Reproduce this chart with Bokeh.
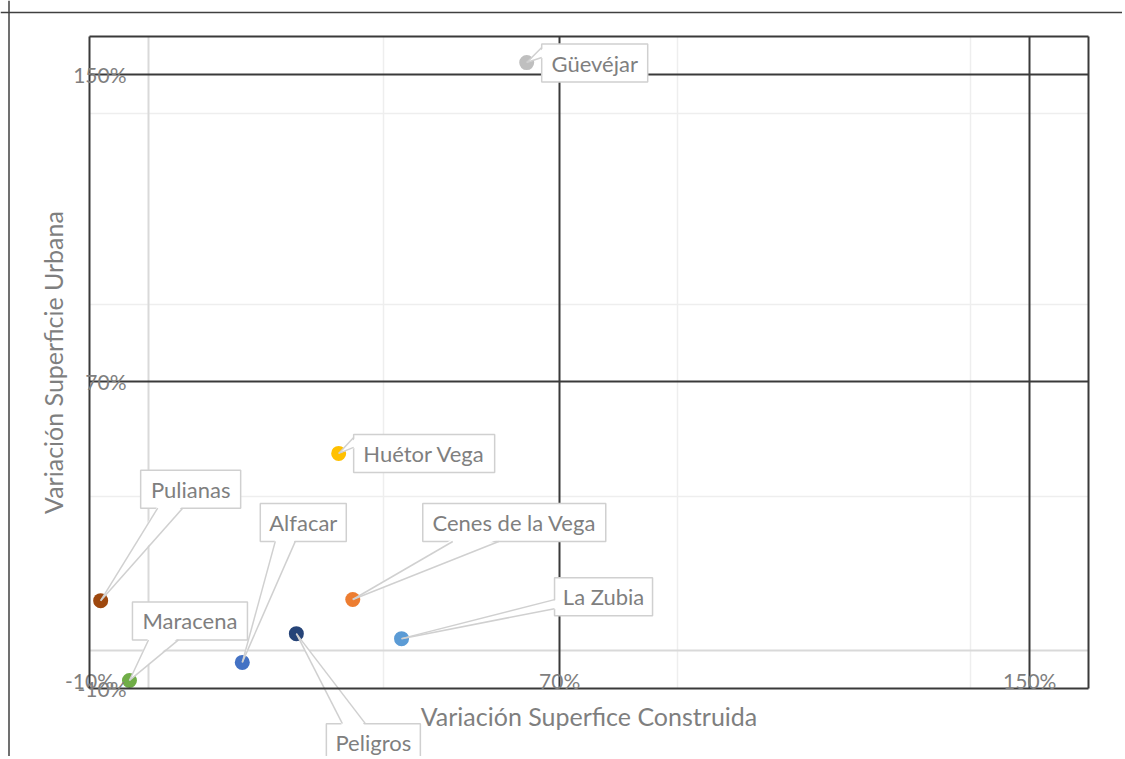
from bokeh.plotting import figure
from bokeh.models import Range1d, FixedTicker, Grid, Span, ColumnDataSource
from bokeh.core.properties import value
from bokeh.embed import file_html
from bokeh.resources import INLINE

# ---------------- data ----------------
municipios = ["Güevéjar", "Huétor Vega", "Pulianas", "Cenes de la Vega",
              "La Zubia", "Peligros", "Alfacar", "Maracena"]
var_construida = [64.4, 32.4, -8.1, 34.8, 43.1, 25.2, 16.0, -3.2]
var_urbana = [153.2, 51.3, 12.9, 13.2, 3.0, 4.3, -3.2, -7.9]
colores = ["#BFBFBF", "#FFC000", "#9E480E", "#ED7D31",
           "#5B9BD5", "#264478", "#4472C4", "#70AD47"]

tick_values = [-10, 70, 150]
tick_labels = ["-10%", "70%", "150%"]
axis_start, axis_end = -10, 160
x_title = "Variación Superfice Construida"
y_title = "Variación Superficie Urbana"

# ---------------- label layout (screen px) ----------------
label_dx = [68, 85.5, 90, 161.5, 202, 77, 61, 60.5]
label_dy = [0.5, 0, -111.5, -77, -42, 109, -140, -59.5]
label_w = [106, 141, 100, 183, 98, 94, 86, 115]
label_h = 38
pointer_side = ["left", "left", "bottom", "bottom", "left", "top", "bottom", "bottom"]
pointer_a = [-15.5, -16, -33, -61.5, 3, -31, -28, -41.5]
pointer_b = [-5.5, -6, -8, -15.5, 12, -8, -8, -11.5]

# ---------------- geometry ----------------
W, H = 1122, 756
FIG_X, FIG_Y = 0, 0
X_LEFT_PX = 89 - FIG_X
X_RIGHT_PX = 1088 - FIG_X
Y_TOP_PX = 36 - FIG_Y
Y_BOT_PX = 688 - FIG_Y
kx = (X_RIGHT_PX - X_LEFT_PX) / (axis_end - axis_start)
ky = (Y_BOT_PX - Y_TOP_PX) / (axis_end - axis_start)


def x_at(px):
    return axis_start + (px - X_LEFT_PX) / kx


def y_at(py):
    return axis_start + (Y_BOT_PX - py) / ky


def px_of(x):
    return X_LEFT_PX + (x - axis_start) * kx


def py_of(y):
    return Y_BOT_PX - (y - axis_start) * ky


FONT = "Lato"
TXT = "#7f7f7f"
DARK = "#3a3a3a"
BOXLINE = "#d0d0d0"

p = figure(width=W, height=H,
           x_range=Range1d(x_at(0), x_at(W)),
           y_range=Range1d(y_at(H), y_at(0)),
           output_backend="svg", toolbar_location=None, tools="",
           min_border=0)
p.outline_line_color = None
p.background_fill_color = "white"
p.border_fill_color = "white"
p.xgrid.grid_line_color = None
p.ygrid.grid_line_color = None

# grids
faint = [40, 90, 140]
for dim in (0, 1):
    p.add_layout(Grid(dimension=dim, ticker=FixedTicker(ticks=faint),
                      bounds=(axis_start, axis_end),
                      cross_bounds=(axis_start, axis_end),
                      grid_line_color="#eeeeee", grid_line_width=1.5))
for dim in (0, 1):
    p.add_layout(Grid(dimension=dim, ticker=FixedTicker(ticks=[0]),
                      bounds=(axis_start, axis_end),
                      cross_bounds=(axis_start, axis_end),
                      grid_line_color="#d9d9d9", grid_line_width=2))
for dim in (0, 1):
    p.add_layout(Grid(dimension=dim,
                      ticker=FixedTicker(ticks=tick_values[1:] + [axis_end]),
                      bounds=(axis_start, axis_end),
                      cross_bounds=(axis_start, axis_end),
                      grid_line_color=DARK, grid_line_width=2))

# axes
for ax in (p.xaxis[0], p.yaxis[0]):
    ax.fixed_location = axis_start
    ax.ticker = FixedTicker(ticks=tick_values)
    ax.major_label_overrides = {float(v): l for v, l in zip(tick_values, tick_labels)}
    ax.bounds = (axis_start, axis_end)
    ax.axis_line_color = DARK
    ax.axis_line_width = 2
    ax.major_tick_line_color = None
    ax.minor_tick_line_color = None
    ax.major_label_text_font = FONT
    ax.major_label_text_font_size = "21px"
    ax.major_label_text_color = TXT
    ax.axis_label_text_font = FONT
    ax.axis_label_text_font_size = "25px"
    ax.axis_label_text_color = TXT
    ax.axis_label_text_font_style = "normal"
p.xaxis.axis_label = x_title
p.yaxis.axis_label = y_title
p.xaxis.major_label_standoff = -27
p.yaxis.major_label_standoff = -43
p.xaxis.axis_label_standoff = 5
p.yaxis.axis_label_standoff = 2

# outer chart-area border (top and left)
p.add_layout(Span(location=y_at(12 - FIG_Y), dimension="width",
                  line_color="#404040", line_width=1.5))
p.add_layout(Span(location=x_at(8.5 - FIG_X), dimension="height",
                  line_color="#404040", line_width=1.5))

# points
src = ColumnDataSource(dict(x=var_construida, y=var_urbana, c=colores, n=municipios))
p.scatter("x", "y", source=src, size=15, fill_color="c", line_color=None)

# callouts
L, R, T, B, TX, TY = [], [], [], [], [], []
fxs, fys, lxs, lys = [], [], [], []
for i in range(len(municipios)):
    px, py = px_of(var_construida[i]), py_of(var_urbana[i])
    cx, cy = px + label_dx[i], py + label_dy[i]
    w, h = label_w[i], label_h
    L.append(x_at(cx - w / 2)); R.append(x_at(cx + w / 2))
    T.append(y_at(cy - h / 2)); B.append(y_at(cy + h / 2))
    TX.append(x_at(cx)); TY.append(y_at(cy))
    a, b = pointer_a[i], pointer_b[i]
    side = pointer_side[i]
    if side == "left":
        b1, b2 = (cx - w / 2, cy + a), (cx - w / 2, cy + b)
        i1, i2 = (cx - w / 2 + 2.5, cy + a), (cx - w / 2 + 2.5, cy + b)
    elif side == "bottom":
        b1, b2 = (cx + a, cy + h / 2), (cx + b, cy + h / 2)
        i1, i2 = (cx + a, cy + h / 2 - 2.5), (cx + b, cy + h / 2 - 2.5)
    else:
        b1, b2 = (cx + a, cy - h / 2), (cx + b, cy - h / 2)
        i1, i2 = (cx + a, cy - h / 2 + 2.5), (cx + b, cy - h / 2 + 2.5)
    fxs.append([x_at(i1[0]), x_at(i2[0]), x_at(px)])
    fys.append([y_at(i1[1]), y_at(i2[1]), y_at(py)])
    lxs.append([x_at(b1[0]), x_at(px)]); lys.append([y_at(b1[1]), y_at(py)])
    lxs.append([x_at(b2[0]), x_at(px)]); lys.append([y_at(b2[1]), y_at(py)])

p.quad(left=L, right=R, top=T, bottom=B, fill_color="white",
       line_color=BOXLINE, line_width=1.5)
p.patches(xs=fxs, ys=fys, fill_color="white", line_color=None)
p.multi_line(xs=lxs, ys=lys, line_color=BOXLINE, line_width=1.5)
p.text(x=TX, y=TY, text=municipios, text_align="center", text_baseline="middle",
       text_font=value(FONT), text_font_size="22px", text_color=TXT)

with open("out.html", "w", encoding="utf-8") as f:
    f.write(file_html(p, INLINE))
